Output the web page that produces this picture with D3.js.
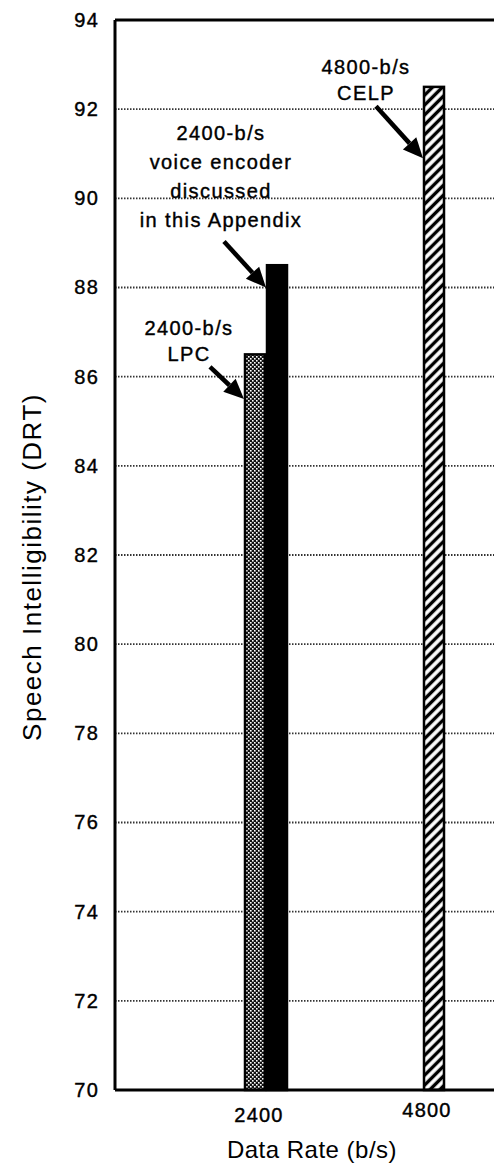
<!DOCTYPE html>
<html>
<head>
<meta charset="utf-8">
<script src="https://cdn.jsdelivr.net/npm/d3@7"></script>
<style>
  html, body { margin: 0; padding: 0; background: #fff; }
  svg { display: block; font-family: "Liberation Sans", Arial, Helvetica, sans-serif; }
</style>
</head>
<body>
<div id="chart"></div>
<script>
// data
const rates = [2400, 4800];
const rateLabels = ['2400', '4800'];
const yTickValues = [70, 72, 74, 76, 78, 80, 82, 84, 86, 88, 90, 92, 94];
const coders = ['LPC', 'voice encoder', 'CELP'];
const coderRates = [2400, 2400, 4800];
const intelligibility = [86.5, 88.5, 92.5];
const labelLines = [
  ['2400-b/s', 'LPC'],
  ['2400-b/s', 'voice encoder', 'discussed', 'in this Appendix'],
  ['4800-b/s', 'CELP']
];

const WIDTH = 494, HEIGHT = 1167;
const LEFT = 115, TOP = 20, BOTTOM = 1090, RIGHT = 494;
const BAR_W = 20, BAR_GAP = 2;

const svg = d3.select('#chart').append('svg')
  .attr('width', WIDTH).attr('height', HEIGHT);

const defs = svg.append('defs');
// stipple for LPC
const stip = defs.append('pattern').attr('id', 'stipple')
  .attr('patternUnits', 'userSpaceOnUse').attr('width', 4).attr('height', 4);
stip.append('rect').attr('width', 4).attr('height', 4).attr('fill', '#111');
stip.append('rect').attr('x', 0).attr('y', 0).attr('width', 1.6).attr('height', 1.6).attr('fill', '#fff');
stip.append('rect').attr('x', 2).attr('y', 2).attr('width', 1.6).attr('height', 1.6).attr('fill', '#fff');
// diagonal hatch for CELP
const hatch = defs.append('pattern').attr('id', 'hatch')
  .attr('patternUnits', 'userSpaceOnUse').attr('width', 7).attr('height', 7)
  .attr('patternTransform', 'rotate(45)');
hatch.append('rect').attr('width', 7).attr('height', 7).attr('fill', '#fff');
hatch.append('line').attr('x1', 3.5).attr('y1', 0).attr('x2', 3.5).attr('y2', 7)
  .attr('stroke', '#000').attr('stroke-width', 3.4);

const fills = ['url(#stipple)', '#000', 'url(#hatch)'];

const y = d3.scaleLinear().domain([70, 94]).range([BOTTOM, TOP]);
const x = d3.scaleLinear().domain([2400, 4800]).range([266, 434]);

// gridlines
svg.append('g').selectAll('line')
  .data(yTickValues.filter(v => v > 70 && v < 94)).enter().append('line')
  .attr('x1', LEFT).attr('x2', RIGHT)
  .attr('y1', d => y(d)).attr('y2', d => y(d))
  .attr('stroke', '#333').attr('stroke-width', 1.8)
  .attr('stroke-dasharray', '1.5,1.5');

// y axis labels
const yAxis = svg.append('g').attr('transform', `translate(${LEFT},0)`)
  .call(d3.axisLeft(y).tickValues(yTickValues).tickSize(0).tickPadding(16));
yAxis.select('.domain').remove();
yAxis.selectAll('text')
  .attr('font-size', 20).attr('fill', '#000')
  .attr('letter-spacing', 1.2).attr('stroke', '#000').attr('stroke-width', 0.4)
  .attr('font-family', '"Liberation Sans", Arial, sans-serif');

// x axis labels
svg.append('g').selectAll('text')
  .data(rates).enter().append('text')
  .attr('x', d => x(d) - 7)
  .attr('y', (d, i) => BOTTOM + (i === 0 ? 32 : 27))
  .attr('text-anchor', 'middle')
  .attr('font-size', 20).attr('letter-spacing', 1.2)
  .attr('stroke', '#000').attr('stroke-width', 0.4)
  .text((d, i) => rateLabels[i]);

// bars: bars sharing a rate sit side by side
const bars = coders.map((c, i) => {
  const group = coders.map((_, j) => j).filter(j => coderRates[j] === coderRates[i]);
  const k = group.indexOf(i);
  const total = group.length * BAR_W + (group.length - 1) * BAR_GAP;
  const x0 = x(coderRates[i]) - total / 2 + k * (BAR_W + BAR_GAP);
  return { i, x0, value: intelligibility[i] };
});

svg.append('g').selectAll('rect')
  .data(bars).enter().append('rect')
  .attr('x', d => d.x0)
  .attr('y', d => y(d.value))
  .attr('width', BAR_W)
  .attr('height', d => y(70) - y(d.value))
  .attr('fill', d => fills[d.i])
  .attr('stroke', '#000').attr('stroke-width', 2.5);

// frame
const frame = svg.append('g').attr('stroke', '#000').attr('stroke-width', 3).attr('fill', 'none');
frame.append('line').attr('x1', LEFT).attr('x2', LEFT).attr('y1', y(94)).attr('y2', y(70));
frame.append('line').attr('x1', LEFT).attr('x2', RIGHT).attr('y1', y(70)).attr('y2', y(70));
frame.append('line').attr('x1', LEFT).attr('x2', RIGHT).attr('y1', y(94)).attr('y2', y(94));

// annotations: text block position and arrow start relative to bar
const annot = [
  { cx: 189, top: 328, lh: 26, tipDv: -1.0, sx: -34, sy: -32 },
  { cx: 221, top: 133, lh: 29, tipDv: -0.5, sx: -42, sy: -46 },
  { cx: 366, top: 67, lh: 26, tipDv: -1.6, sx: -47, sy: -52 }
];

const ann = svg.append('g');
annot.forEach((a, i) => {
  labelLines[i].forEach((t, j) => {
    ann.append('text')
      .attr('x', a.cx).attr('y', a.top + j * a.lh)
      .attr('dy', '0.35em')
      .attr('text-anchor', 'middle')
      .attr('font-size', 20).attr('letter-spacing', 1.4)
      .attr('stroke', '#000').attr('stroke-width', 0.4)
      .text(t);
  });
  const b = bars[i];
  const tx = b.x0 - 1, ty = y(b.value + a.tipDv);
  const sx = tx + a.sx, sy = ty + a.sy;
  const ang = Math.atan2(ty - sy, tx - sx);
  const hl = 20, hw = 9;
  const bx = tx - hl * Math.cos(ang), by = ty - hl * Math.sin(ang);
  ann.append('line')
    .attr('x1', sx).attr('y1', sy).attr('x2', bx).attr('y2', by)
    .attr('stroke', '#000').attr('stroke-width', 4.5);
  ann.append('path')
    .attr('d', `M${tx},${ty} L${bx + hw * Math.sin(ang)},${by - hw * Math.cos(ang)} L${bx - hw * Math.sin(ang)},${by + hw * Math.cos(ang)} Z`)
    .attr('fill', '#000');
});

// axis titles
svg.append('text')
  .attr('x', 312).attr('y', 1150).attr('dy', '0.35em')
  .attr('text-anchor', 'middle')
  .attr('font-size', 24).attr('letter-spacing', 0.5)
  .text('Data Rate (b/s)');

svg.append('text')
  .attr('transform', 'translate(32,567) rotate(-90)')
  .attr('dy', '0.35em')
  .attr('text-anchor', 'middle')
  .attr('font-size', 26).attr('letter-spacing', 1.5)
  .text('Speech Intelligibility (DRT)');
</script>
</body>
</html>
